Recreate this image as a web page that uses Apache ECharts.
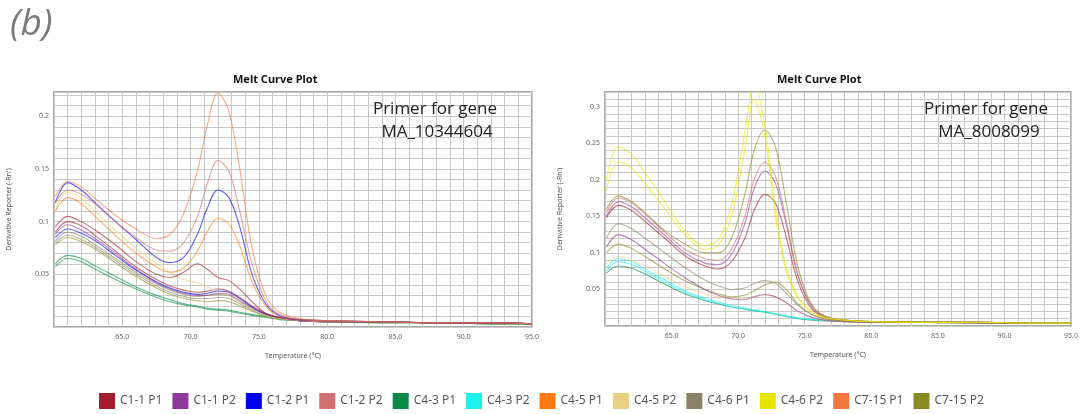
<!DOCTYPE html>
<html><head><meta charset="utf-8">
<script src="https://cdn.jsdelivr.net/npm/echarts@6/dist/echarts.min.js"></script>
<style>html,body{margin:0;padding:0;background:#fff}#c{width:1081px;height:414px}</style>
</head><body><div id="c"></div>
<script>
// Temperature sample points (°C)
const temps = [60.1, 61, 62, 63, 64.5, 66, 67.5, 68.5, 69.5, 70.5, 71.2, 72, 72.8, 73.6, 74.5, 75.5, 76.5, 78, 80, 84, 88, 92, 95];

const sampleNames = ['C1-1 P1','C1-1 P2','C1-2 P1','C1-2 P2','C4-3 P1','C4-3 P2','C4-5 P1','C4-5 P2','C4-6 P1','C4-6 P2','C7-15 P1','C7-15 P2'];
const sampleColors = ['#a51c2a','#8e3a9a','#0000f0','#d07070','#078a45','#1ff0f0','#ff7b12','#e8d080','#8a8266','#e6e600','#f0783c','#8a8a24'];

// Left plot: Primer for gene MA_10344604
const L_C7_15_P1 = [0.124,0.138,0.133,0.122,0.106,0.093,0.084,0.088,0.108,0.148,0.190,0.222,0.205,0.150,0.075,0.030,0.014,0.008,0.006,0.005,0.004,0.004,0.003];
const L_C1_2_P2  = [0.118,0.130,0.126,0.117,0.100,0.085,0.073,0.072,0.080,0.105,0.135,0.158,0.148,0.110,0.060,0.025,0.012,0.007,0.006,0.005,0.004,0.004,0.003];
const L_C1_2_P1  = [0.118,0.137,0.130,0.118,0.100,0.083,0.066,0.061,0.066,0.088,0.112,0.130,0.123,0.095,0.050,0.022,0.011,0.007,0.006,0.005,0.004,0.004,0.003];
const L_C4_5_P1  = [0.110,0.123,0.117,0.105,0.087,0.070,0.057,0.052,0.056,0.072,0.090,0.103,0.098,0.077,0.043,0.020,0.010,0.007,0.006,0.005,0.004,0.004,0.003];
const L_C4_5_P2  = [0.112,0.128,0.122,0.110,0.092,0.075,0.060,0.052,0.045,0.042,0.038,0.034,0.030,0.024,0.017,0.011,0.008,0.006,0.005,0.005,0.004,0.004,0.003];
const L_C1_1_P1  = [0.095,0.105,0.100,0.092,0.078,0.062,0.050,0.047,0.052,0.060,0.055,0.047,0.044,0.036,0.024,0.013,0.009,0.007,0.006,0.005,0.004,0.004,0.003];
const L_C1_1_P2  = [0.088,0.097,0.092,0.084,0.070,0.055,0.042,0.036,0.032,0.030,0.030,0.032,0.031,0.025,0.018,0.012,0.009,0.006,0.005,0.005,0.004,0.004,0.003];
const L_C4_6_P1  = [0.080,0.087,0.083,0.076,0.063,0.050,0.039,0.033,0.029,0.027,0.027,0.028,0.027,0.022,0.016,0.011,0.008,0.006,0.005,0.005,0.004,0.004,0.003];
const L_C4_3_P1  = [0.060,0.068,0.065,0.058,0.048,0.038,0.030,0.026,0.022,0.020,0.018,0.017,0.016,0.014,0.012,0.010,0.008,0.006,0.005,0.004,0.004,0.003,0.003];
const L_C1_2_P1b = [0.085,0.093,0.089,0.082,0.068,0.054,0.043,0.037,0.033,0.031,0.032,0.034,0.033,0.027,0.019,0.012,0.009,0.006,0.005,0.005,0.004,0.004,0.003];
const L_C1_1_P1b = [0.090,0.100,0.096,0.087,0.072,0.057,0.045,0.039,0.035,0.033,0.034,0.036,0.034,0.028,0.020,0.013,0.009,0.006,0.005,0.005,0.004,0.004,0.003];
const L_C4_3_P1b = [0.057,0.065,0.062,0.055,0.045,0.036,0.028,0.024,0.021,0.019,0.017,0.016,0.015,0.013,0.011,0.009,0.007,0.006,0.005,0.004,0.004,0.003,0.003];
const L_C7_15_P2 = [0.078,0.085,0.081,0.074,0.061,0.048,0.037,0.031,0.027,0.025,0.024,0.025,0.024,0.020,0.015,0.010,0.008,0.006,0.005,0.004,0.004,0.003,0.003];
const L_C4_6_P1b = [0.082,0.090,0.086,0.078,0.065,0.052,0.041,0.035,0.031,0.029,0.030,0.031,0.030,0.024,0.017,0.011,0.008,0.006,0.005,0.005,0.004,0.004,0.003];

// Right plot: Primer for gene MA_8008099
const R_C4_6_P2  = [0.200,0.245,0.235,0.210,0.170,0.130,0.110,0.118,0.165,0.265,0.330,0.275,0.160,0.080,0.040,0.020,0.012,0.008,0.006,0.005,0.005,0.004,0.004];
const R_C4_6_P2b = [0.185,0.225,0.216,0.195,0.160,0.125,0.105,0.110,0.150,0.240,0.310,0.260,0.150,0.075,0.038,0.019,0.011,0.008,0.006,0.005,0.005,0.004,0.004];
const R_C7_15_P2 = [0.160,0.178,0.170,0.155,0.130,0.112,0.100,0.100,0.120,0.180,0.240,0.268,0.245,0.170,0.080,0.030,0.014,0.008,0.006,0.005,0.005,0.004,0.004];
const R_C1_2_P2  = [0.155,0.175,0.168,0.153,0.128,0.105,0.092,0.090,0.105,0.150,0.200,0.224,0.205,0.145,0.070,0.028,0.013,0.008,0.006,0.005,0.005,0.004,0.004];
const R_C1_1_P2  = [0.150,0.170,0.163,0.148,0.124,0.100,0.086,0.084,0.098,0.140,0.188,0.212,0.195,0.140,0.068,0.027,0.013,0.008,0.006,0.005,0.005,0.004,0.004];
const R_C1_1_P1  = [0.148,0.165,0.158,0.143,0.120,0.096,0.082,0.078,0.088,0.120,0.158,0.180,0.168,0.122,0.060,0.024,0.012,0.008,0.006,0.005,0.005,0.004,0.004];
const R_C4_6_P1  = [0.120,0.140,0.133,0.120,0.100,0.080,0.063,0.055,0.050,0.052,0.058,0.062,0.058,0.045,0.028,0.016,0.010,0.007,0.006,0.005,0.005,0.004,0.004];
const R_C1_1_P2b = [0.108,0.125,0.118,0.105,0.085,0.066,0.050,0.042,0.037,0.036,0.040,0.043,0.040,0.032,0.020,0.012,0.008,0.006,0.005,0.005,0.004,0.004,0.004];
const R_C7_15_P2b= [0.100,0.112,0.106,0.095,0.078,0.062,0.050,0.044,0.040,0.042,0.048,0.056,0.060,0.050,0.030,0.016,0.010,0.007,0.006,0.005,0.005,0.004,0.004];
const R_C4_3_P2  = [0.080,0.092,0.088,0.078,0.063,0.048,0.038,0.033,0.028,0.025,0.022,0.020,0.017,0.014,0.011,0.009,0.008,0.007,0.006,0.005,0.005,0.004,0.004];
const R_C4_3_P2b = [0.075,0.088,0.084,0.075,0.060,0.046,0.036,0.031,0.026,0.023,0.021,0.019,0.016,0.013,0.011,0.009,0.008,0.007,0.006,0.005,0.005,0.004,0.004];
const R_C4_3_P1  = [0.072,0.082,0.079,0.071,0.057,0.044,0.035,0.030,0.026,0.023,0.021,0.019,0.016,0.013,0.010,0.008,0.007,0.006,0.005,0.005,0.004,0.004,0.004];
const R_C4_5_P2  = [0.085,0.095,0.090,0.082,0.068,0.054,0.044,0.040,0.038,0.038,0.040,0.042,0.040,0.032,0.020,0.012,0.008,0.006,0.005,0.005,0.004,0.004,0.004];

const leftCurves = [
  ['C4-3 P1', L_C4_3_P1], ['C4-3 P1', L_C4_3_P1b], ['C7-15 P2', L_C7_15_P2], ['C4-6 P1', L_C4_6_P1], ['C4-6 P1', L_C4_6_P1b],
  ['C1-1 P2', L_C1_1_P2], ['C1-2 P1', L_C1_2_P1b], ['C1-1 P1', L_C1_1_P1b], ['C4-5 P2', L_C4_5_P2], ['C1-1 P1', L_C1_1_P1],
  ['C4-5 P1', L_C4_5_P1], ['C1-2 P1', L_C1_2_P1], ['C1-2 P2', L_C1_2_P2], ['C7-15 P1', L_C7_15_P1]
];
const rightCurves = [
  ['C4-3 P1', R_C4_3_P1], ['C4-3 P2', R_C4_3_P2b], ['C4-3 P2', R_C4_3_P2], ['C4-5 P2', R_C4_5_P2], ['C7-15 P2', R_C7_15_P2b],
  ['C1-1 P2', R_C1_1_P2b], ['C4-6 P1', R_C4_6_P1], ['C1-1 P1', R_C1_1_P1], ['C1-1 P2', R_C1_1_P2], ['C1-2 P2', R_C1_2_P2],
  ['C7-15 P2', R_C7_15_P2], ['C4-6 P2', R_C4_6_P2b], ['C4-6 P2', R_C4_6_P2]
];

const colorOf = n => sampleColors[sampleNames.indexOf(n)];
const mkSeries = (curves, idx) => curves.map(([name, vals]) => ({
  type: 'line', name, xAxisIndex: idx, yAxisIndex: idx,
  data: temps.map((t, k) => [t, vals[k]]),
  smooth: 0.35, symbol: 'none', clip: true,
  color: colorOf(name),
  lineStyle: { width: 1.1, color: colorOf(name), opacity: 0.62 },
  itemStyle: { color: colorOf(name) },
  emphasis: { disabled: true }, silent: true
}));

const xLabel = v => (Math.round(v) % 5 === 0 && v > 60) ? v.toFixed(1) : '';
const yLabel = v => { const r = Math.round(v * 100); return (r % 5 === 0 && r > 0) ? String(+(r / 100).toFixed(2)) : ''; };

const gridLine = { show: true, lineStyle: { color: '#c9c9c9', width: 1 } };
const mkX = idx => ({
  type: 'value', gridIndex: idx, min: 60, max: 95, interval: 1,
  axisLine: { show: false }, axisTick: { show: false }, splitLine: gridLine,
  axisLabel: { fontSize: 7, color: '#666', margin: 6, formatter: xLabel, showMinLabel: false },
  name: 'Temperature (°C)', nameLocation: 'middle', nameGap: 25,
  nameTextStyle: { fontSize: 7, color: '#555' }
});
const mkY = (idx, max) => ({
  type: 'value', gridIndex: idx, min: 0, max, interval: 0.01,
  axisLine: { show: false }, axisTick: { show: false }, splitLine: gridLine,
  axisLabel: { fontSize: 7, color: '#666', margin: 5, formatter: yLabel },
  name: "Derivative Reporter (-Rn')", nameLocation: 'middle', nameGap: 42,
  nameTextStyle: { fontSize: 7, color: '#555' }
});

const chart = echarts.init(document.getElementById('c'), null, { renderer: 'canvas' });
chart.setOption({
  animation: false,
  backgroundColor: '#fff',
  textStyle: { fontFamily: 'Noto Sans' },
  title: [
    { text: '(b)', left: 5, top: 1, textStyle: { fontSize: 37, fontStyle: 'italic', fontWeight: 'normal', color: '#7a7a7a', fontFamily: 'Open Sans' } },
    { text: 'Melt Curve Plot', left: 228, top: 69, textStyle: { fontSize: 11, fontWeight: 'bold', color: '#111', fontFamily: 'Noto Sans' } },
    { text: 'Melt Curve Plot', left: 772, top: 69, textStyle: { fontSize: 11, fontWeight: 'bold', color: '#111', fontFamily: 'Noto Sans' } }
  ],
  grid: [
    { left: 54, right: 549, top: 92, bottom: 87, show: true, borderColor: '#8f8f8f', borderWidth: 1.5, backgroundColor: 'transparent' },
    { left: 605, right: 2, top: 92, bottom: 88, show: true, borderColor: '#8f8f8f', borderWidth: 1.5, backgroundColor: 'transparent' }
  ],
  xAxis: [mkX(0), mkX(1)],
  yAxis: [mkY(0, 0.223), mkY(1, 0.32)],
  legend: {
    data: sampleNames, left: 94, top: 388, icon: 'rect', itemWidth: 16, itemHeight: 16, itemGap: 10,
    selectedMode: false, textStyle: { fontSize: 12, color: '#595959', fontFamily: 'Noto Sans' }
  },
  graphic: [
    { type: 'text', z: 100, x: 435, y: 109, style: { text: 'Primer for gene', fontSize: 17, fontFamily: 'Open Sans', fill: '#222', align: 'center', verticalAlign: 'middle' } },
    { type: 'text', z: 100, x: 437, y: 132, style: { text: 'MA_10344604', fontSize: 17, fontFamily: 'Open Sans', fill: '#222', align: 'center', verticalAlign: 'middle' } },
    { type: 'text', z: 100, x: 986, y: 109, style: { text: 'Primer for gene', fontSize: 17, fontFamily: 'Open Sans', fill: '#222', align: 'center', verticalAlign: 'middle' } },
    { type: 'text', z: 100, x: 989, y: 132, style: { text: 'MA_8008099', fontSize: 17, fontFamily: 'Open Sans', fill: '#222', align: 'center', verticalAlign: 'middle' } }
  ],
  series: [...mkSeries(leftCurves, 0), ...mkSeries(rightCurves, 1)]
});
</script>
</body></html>
